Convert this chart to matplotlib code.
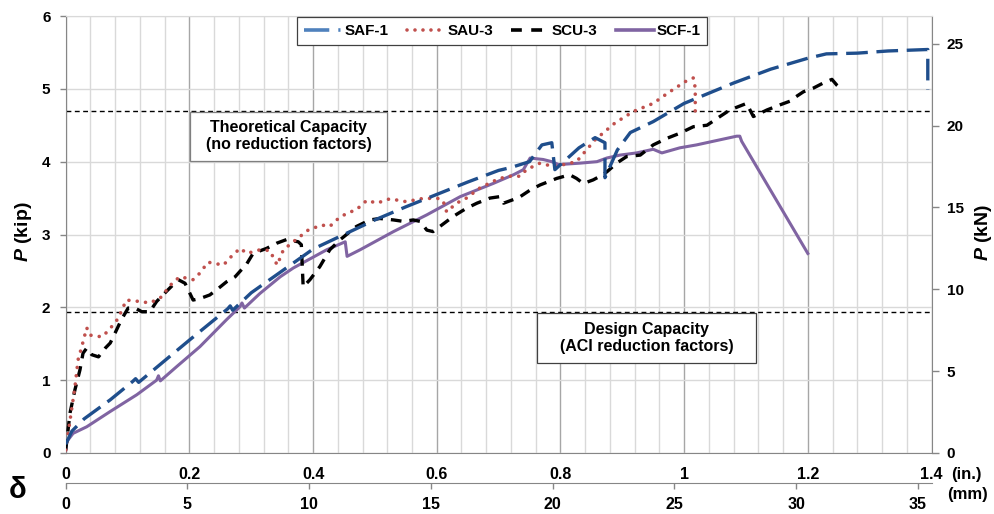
import numpy as np
import matplotlib
matplotlib.use('Agg')
import matplotlib.pyplot as plt
from matplotlib.lines import Line2D
from matplotlib.patches import Rectangle
from matplotlib.ticker import MultipleLocator, FuncFormatter

plt.rcParams['font.family'] = ['Liberation Sans', 'DejaVu Sans']
plt.rcParams['font.weight'] = 'bold'
plt.rcParams['mathtext.fontset'] = 'custom'
plt.rcParams['mathtext.rm'] = 'Liberation Sans:bold'
plt.rcParams['mathtext.it'] = 'Liberation Sans:bold:italic'
plt.rcParams['mathtext.bf'] = 'Liberation Sans:bold'
plt.rcParams['mathtext.bfit'] = 'Liberation Sans:bold:italic'

KIP_TO_KN = 4.448222
IN_TO_MM = 25.4

# ---------------- data (deflection in inches, load in kip) ----------------
saf1_x = [0, 0.01, 0.03, 0.072, 0.108, 0.113, 0.118, 0.2, 0.262, 0.266, 0.27, 0.3, 0.35,
          0.4, 0.45, 0.5, 0.55, 0.6, 0.65, 0.7, 0.72, 0.75, 0.77, 0.786, 0.791, 0.83,
          0.856, 0.872, 0.872, 0.892, 0.913, 0.95, 1.0, 1.08, 1.14, 1.2, 1.23, 1.28,
          1.33, 1.394, 1.394]
saf1_y = [0.12, 0.3, 0.47, 0.73, 0.98, 1.02, 0.97, 1.55, 1.98, 2.02, 1.96, 2.2, 2.5,
          2.8, 3.0, 3.2, 3.38, 3.55, 3.72, 3.88, 3.92, 4.0, 4.23, 4.26, 3.89, 4.19,
          4.33, 4.26, 3.78, 4.16, 4.4, 4.55, 4.8, 5.08, 5.27, 5.42, 5.48, 5.49,
          5.52, 5.54, 4.99]

sau3_x = [0, 0.007, 0.015, 0.02, 0.026, 0.034, 0.039, 0.05, 0.06, 0.077, 0.085, 0.098,
          0.12, 0.136, 0.153, 0.174, 0.185, 0.206, 0.217, 0.23, 0.255, 0.268, 0.282,
          0.293, 0.314, 0.33, 0.342, 0.352, 0.368, 0.392, 0.414, 0.427, 0.438, 0.454,
          0.47, 0.487, 0.503, 0.524, 0.551, 0.573, 0.6, 0.61, 0.616, 0.632, 0.648,
          0.67, 0.691, 0.713, 0.735, 0.745, 0.767, 0.79, 0.81, 0.826, 0.856, 0.888,
          0.918, 0.95, 0.975, 1.002, 1.015, 1.018, 1.018]
sau3_y = [0.04, 0.45, 0.91, 1.28, 1.46, 1.72, 1.62, 1.6, 1.6, 1.76, 1.85, 2.1,
          2.08, 2.06, 2.13, 2.35, 2.42, 2.38, 2.47, 2.62, 2.58, 2.7, 2.81,
          2.74, 2.79, 2.78, 2.58, 2.79, 2.9, 3.06, 3.13, 3.11, 3.2, 3.29,
          3.34, 3.47, 3.43, 3.49, 3.45, 3.49, 3.5, 3.47, 3.31, 3.43, 3.5,
          3.64, 3.73, 3.8, 3.8, 3.89, 3.98, 3.93, 3.97, 4.0, 4.3, 4.53,
          4.69, 4.8, 4.95, 5.1, 5.15, 5.01, 4.69]

scu3_x = [0, 0.007, 0.015, 0.023, 0.028, 0.034, 0.042, 0.053, 0.064, 0.072, 0.08, 0.09,
          0.101, 0.112, 0.123, 0.136, 0.147, 0.163, 0.182, 0.193, 0.206, 0.217, 0.233,
          0.244, 0.26, 0.274, 0.293, 0.303, 0.325, 0.341, 0.357, 0.376, 0.381, 0.384,
          0.395, 0.411, 0.427, 0.444, 0.47, 0.492, 0.508, 0.53, 0.546, 0.562, 0.573,
          0.584, 0.594, 0.616, 0.627, 0.648, 0.665, 0.686, 0.702, 0.708, 0.724, 0.735,
          0.751, 0.767, 0.794, 0.815, 0.826, 0.837, 0.853, 0.864, 0.875, 0.891, 0.907,
          0.929, 0.95, 0.972, 0.993, 1.015, 1.037, 1.058, 1.074, 1.101, 1.112, 1.134,
          1.155, 1.171, 1.177, 1.193, 1.209, 1.225, 1.239, 1.247, 1.255]
scu3_y = [0.04, 0.55, 0.87, 1.14, 1.37, 1.44, 1.35, 1.32, 1.44, 1.51, 1.65, 1.83,
          1.99, 1.99, 1.94, 1.94, 2.08, 2.22, 2.38, 2.33, 2.1, 2.12, 2.17,
          2.24, 2.35, 2.42, 2.6, 2.74, 2.81, 2.88, 2.93, 2.9, 2.86, 2.28,
          2.38, 2.56, 2.79, 2.93, 3.11, 3.2, 3.22, 3.2, 3.18, 3.2, 3.18,
          3.06, 3.04, 3.18, 3.25, 3.36, 3.43, 3.5, 3.52, 3.43, 3.48, 3.52,
          3.61, 3.68, 3.77, 3.82, 3.77, 3.7, 3.75, 3.8, 3.86, 3.98, 4.07,
          4.09, 4.23, 4.32, 4.39, 4.48, 4.5, 4.62, 4.71, 4.8, 4.62, 4.71,
          4.78, 4.83, 4.87, 4.96, 5.01, 5.08, 5.13, 5.05, 4.99]

scf1_x = [0, 0.002, 0.012, 0.034, 0.072, 0.115, 0.147, 0.15, 0.153, 0.18, 0.217, 0.26,
          0.282, 0.285, 0.289, 0.314, 0.347, 0.368, 0.422, 0.452, 0.455, 0.476, 0.53,
          0.584, 0.638, 0.691, 0.724, 0.74, 0.751, 0.772, 0.786, 0.797, 0.832, 0.859,
          0.875, 0.896, 0.923, 0.95, 0.964, 0.993, 1.02, 1.047, 1.085, 1.09, 1.093, 1.2]
scf1_y = [0.04, 0.16, 0.27, 0.36, 0.57, 0.8, 1.0, 1.06, 0.99, 1.19, 1.46, 1.83,
          2.01, 2.06, 1.99, 2.19, 2.42, 2.54, 2.79, 2.9, 2.7, 2.79, 3.04,
          3.27, 3.52, 3.7, 3.82, 3.89, 4.05, 4.03, 4.0, 3.96, 3.98, 4.0,
          4.05, 4.09, 4.12, 4.17, 4.12, 4.19, 4.23, 4.28, 4.35, 4.35, 4.28, 2.74]

theoretical_capacity = 4.70   # kip
design_capacity = 1.94        # kip

series_names = ['SAF-1', 'SAU-3', 'SCU-3', 'SCF-1']
in_ticks = [0, 0.2, 0.4, 0.6, 0.8, 1.0, 1.2, 1.4]
mm_ticks = [0, 5, 10, 15, 20, 25, 30, 35]
kip_ticks = [0, 1, 2, 3, 4, 5, 6]
kn_ticks = [0, 5, 10, 15, 20, 25]

# ---------------- figure ----------------
W, H = 994, 514
fig = plt.figure(figsize=(W / 100, H / 100), dpi=100)
L, R, T, B = 65.7, 931.5, 16, 453
ax = fig.add_axes([L / W, 1 - B / H, (R - L) / W, (B - T) / H])
ax.set_xlim(0, 1.4)
ax.set_ylim(0, 6)

ax.set_xticks(in_ticks)
ax.xaxis.set_minor_locator(MultipleLocator(0.04))
ax.set_yticks(kip_ticks)
ax.xaxis.set_major_formatter(FuncFormatter(lambda v, p: '%g' % round(v, 2)))
ax.set_axisbelow(True)
ax.grid(which='minor', axis='x', color='#D9D9D9', lw=1.0)
ax.grid(which='major', axis='x', color='#A6A6A6', lw=1.0)
ax.grid(which='major', axis='y', color='#D9D9D9', lw=1.0)
ax.tick_params(axis='x', which='both', length=0, pad=10, labelsize=11.5)
ax.tick_params(axis='y', which='both', length=4, width=1, color='#868686',
               pad=7, labelsize=11)
for s in ['left', 'bottom', 'right']:
    ax.spines[s].set_color('#868686')
ax.spines['top'].set_color('#D9D9D9')

# reference lines
ax.axhline(theoretical_capacity, color='black', lw=1.0, dashes=(3.5, 2.5), zorder=2)
ax.axhline(design_capacity, color='black', lw=1.0, dashes=(3.5, 2.5), zorder=2)

# text boxes
ax.add_patch(Rectangle((0.201, 4.011), 0.3186, 0.673, transform=ax.transData,
                       facecolor='white', edgecolor='#7F7F7F', lw=0.9, zorder=3))
ax.text(0.3603, 4.35, 'Theoretical Capacity\n(no reduction factors)', ha='center',
        va='center', fontsize=11.5, fontweight='bold', linespacing=1.15, zorder=4)
ax.add_patch(Rectangle((0.762, 1.236), 0.354, 0.687, transform=ax.transData,
                       facecolor='white', edgecolor='#404040', lw=0.9, zorder=3))
ax.text(0.939, 1.58, 'Design Capacity\n(ACI reduction factors)', ha='center',
        va='center', fontsize=11.5, fontweight='bold', linespacing=1.15, zorder=4)

# curves
ax.plot(scf1_x, scf1_y, color='#8064A2', lw=2.2, zorder=5, solid_joinstyle='round')
ax.plot(scu3_x, scu3_y, color='black', lw=2.4, dashes=(3.2, 2.4), zorder=6)
ax.plot(sau3_x, sau3_y, color='#C0504D', lw=2.6, dashes=(0.01, 2.3),
        dash_capstyle='round', zorder=7)
ax.plot(saf1_x, saf1_y, color='#1F4E8C', lw=2.4, dashes=(6.5, 2.6), zorder=8)

# legend
handles = [
    Line2D([], [], color='#4F81BD', lw=2.6, dashes=(7.0, 2.5, 0.6, 2.5)),
    Line2D([], [], color='#C0504D', lw=2.6, dashes=(0.01, 2.2), dash_capstyle='round'),
    Line2D([], [], color='black', lw=2.6, dashes=(3.0, 2.6)),
    Line2D([], [], color='#8064A2', lw=2.6),
]
leg = ax.legend(handles, series_names, loc='upper left', bbox_to_anchor=(297 / W, 1 - 17 / H),
                bbox_transform=fig.transFigure, ncol=4, frameon=True, fancybox=False,
                edgecolor='#404040', framealpha=1, fontsize=11, handlelength=2.5,
                handletextpad=0.15, columnspacing=1.2, borderpad=0.45, borderaxespad=0)
leg.get_frame().set_linewidth(0.9)
leg.set_zorder(10)

# right axis (kN)
ax2 = ax.twinx()
ax2.set_ylim(0, 6 * KIP_TO_KN)
ax2.set_yticks(kn_ticks)
ax2.tick_params(axis='y', length=5, width=1, color='#868686', pad=6, labelsize=11)
for s in ax2.spines.values():
    s.set_visible(False)

# secondary x axis (mm)
sec = ax.secondary_xaxis(-30 / (B - T), functions=(lambda x: x * IN_TO_MM,
                                                   lambda m: m / IN_TO_MM))
sec.set_xticks(mm_ticks)
sec.tick_params(axis='x', length=4, width=1, color='#868686', pad=6, labelsize=11.5)
sec.spines['bottom'].set_color('#868686')

# axis labels
fig.text(23 / W, 1 - 232 / H, r'$\mathbfit{P}$ (kip)', rotation=90, ha='center', va='center',
         fontsize=14, fontweight='bold')
fig.text(984 / W, 1 - 232 / H, r'$\mathbfit{P}$ (kN)', rotation=90, ha='center', va='center',
         fontsize=14, fontweight='bold')
fig.text(18 / W, 1 - 490 / H, 'δ', ha='center', va='center', fontsize=21, fontweight='bold')
fig.text(966 / W, 1 - 475 / H, '(in.)', ha='center', va='center', fontsize=12, fontweight='bold')
fig.text(968 / W, 1 - 494 / H, '(mm)', ha='center', va='center', fontsize=12, fontweight='bold')

fig.savefig('out.png', dpi=100)
